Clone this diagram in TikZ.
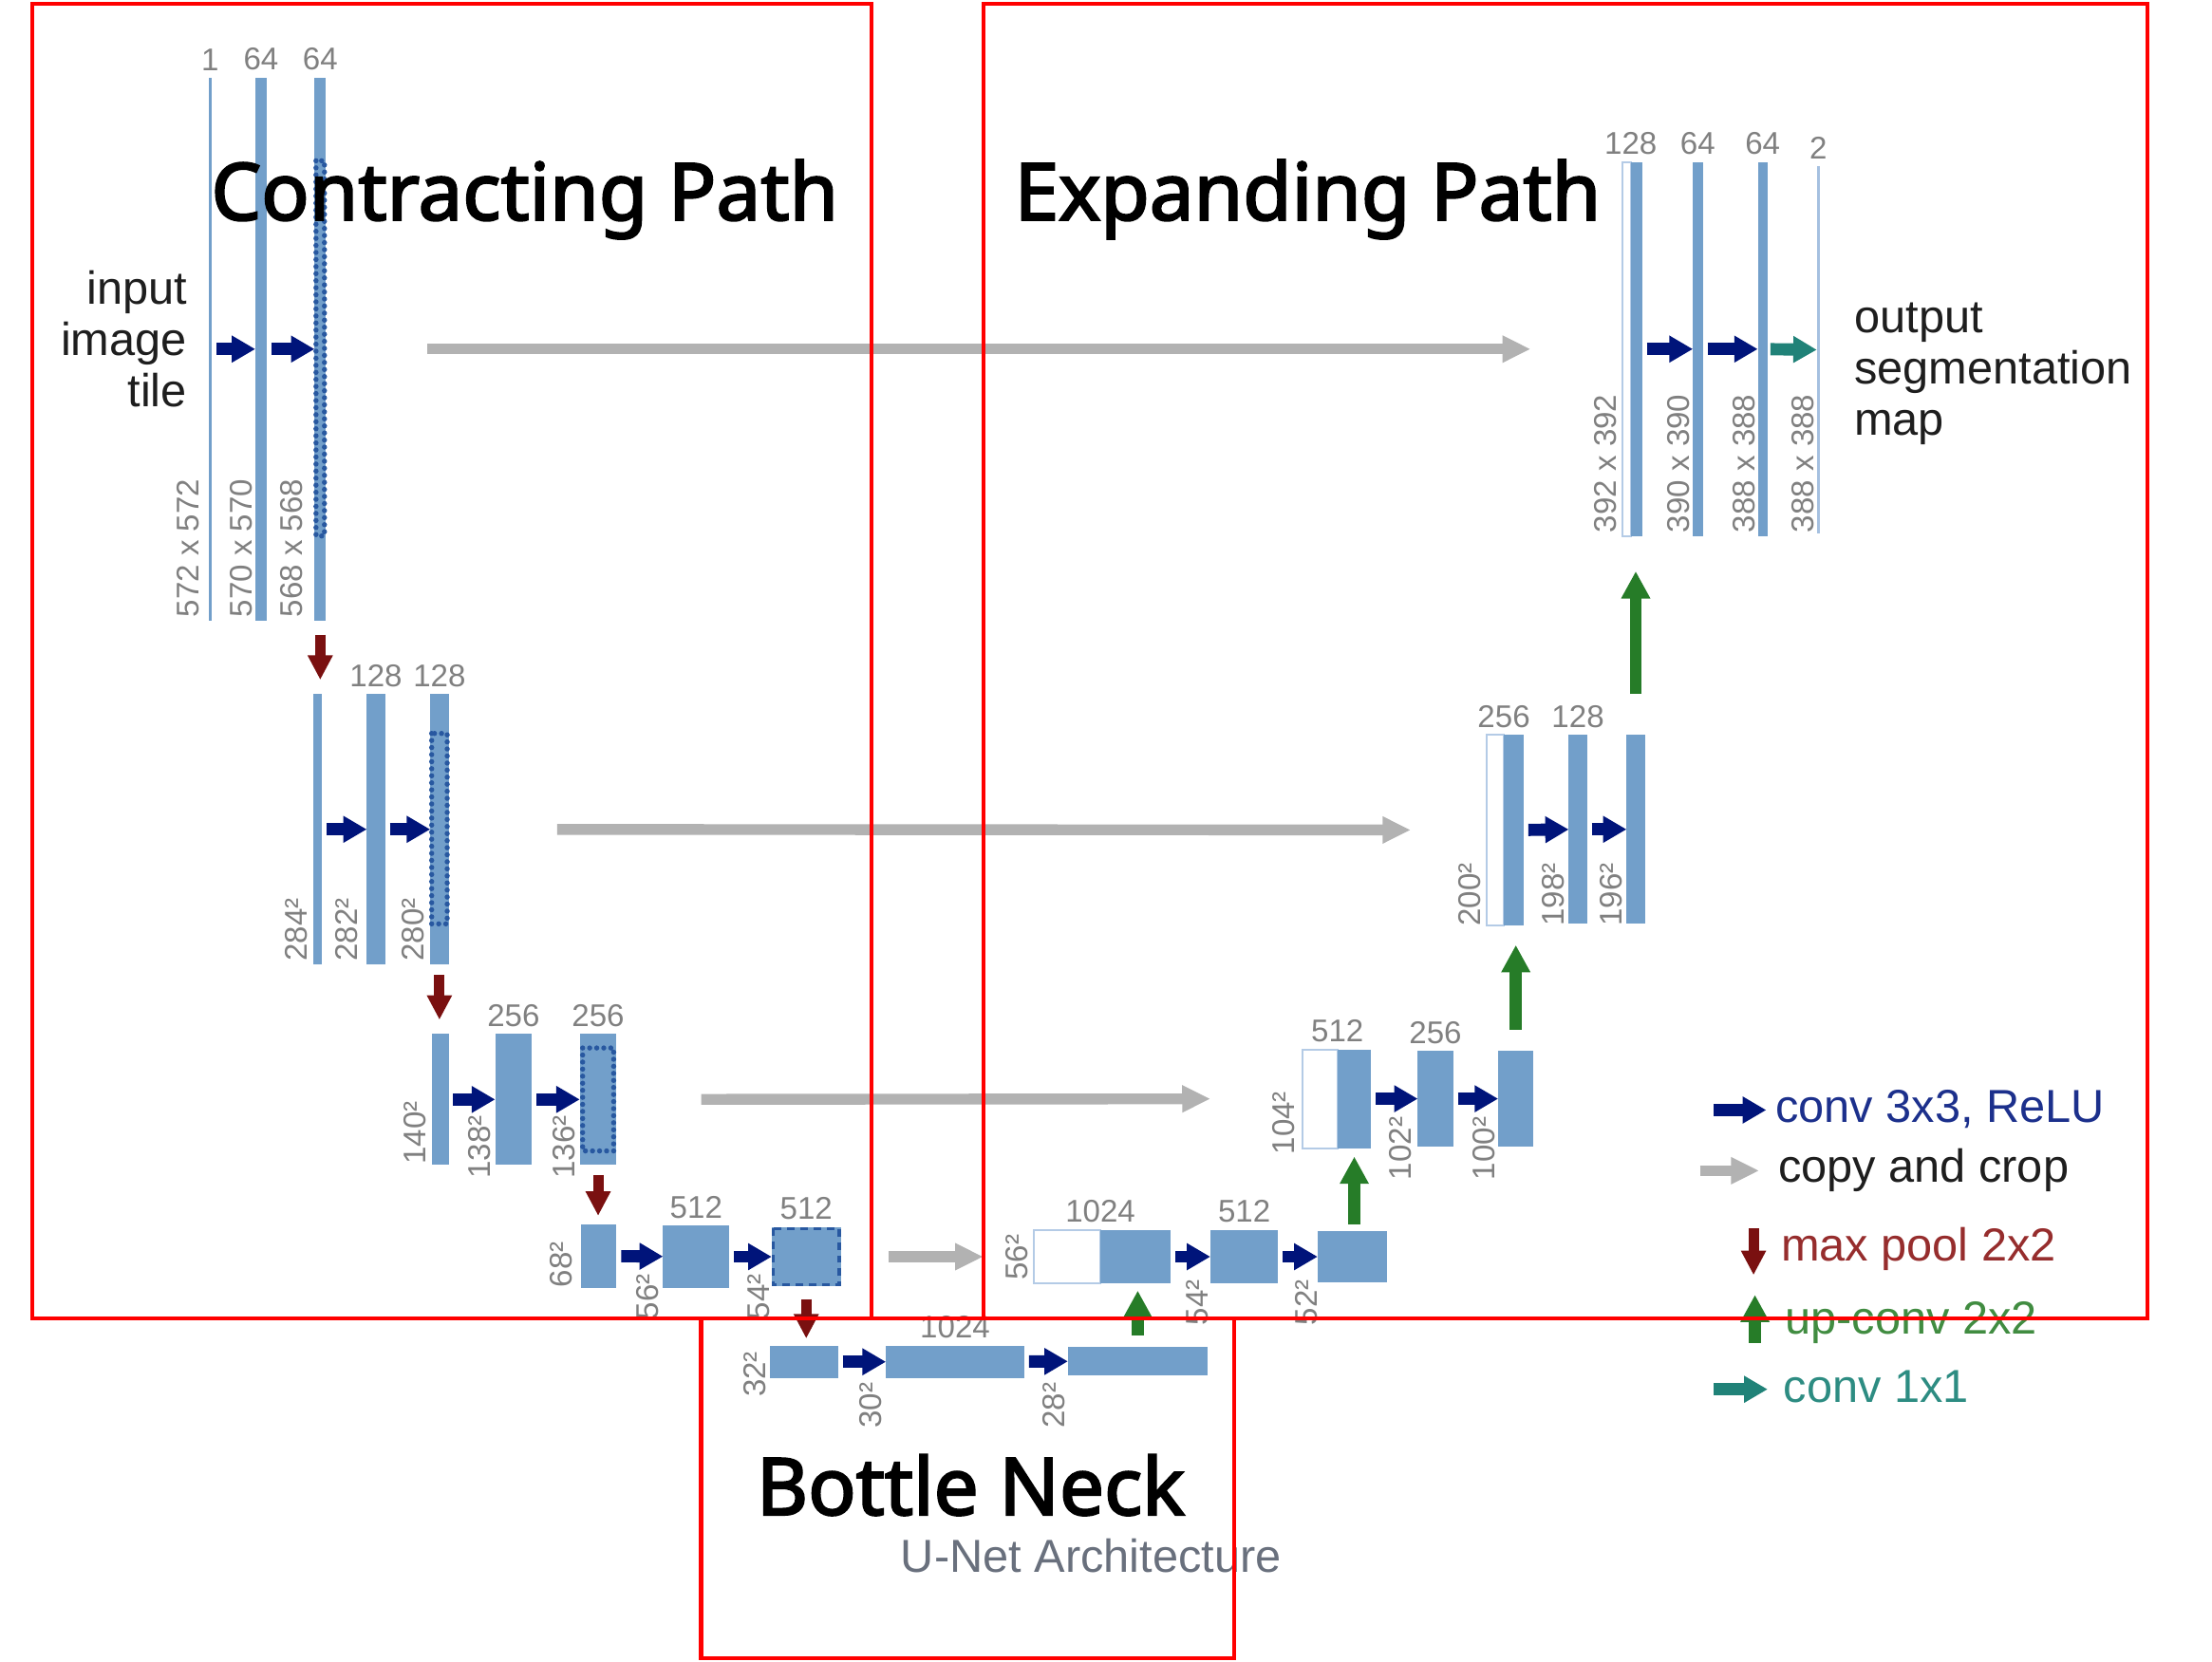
\documentclass[tikz,border=0pt]{standalone}
\usepackage{fontspec}
\setmainfont{Liberation Sans}
\newfontfamily\titlefont{Noto Sans}[AutoFakeBold=2.6]
\usetikzlibrary{arrows.meta,positioning,fit}

\definecolor{fmapblue}{RGB}{114,159,202}
\definecolor{outblue}{RGB}{165,192,224}
\definecolor{catedge}{RGB}{180,203,230}
\definecolor{cropblue}{RGB}{40,88,160}
\definecolor{convblue}{RGB}{0,20,122}
\definecolor{copygray}{RGB}{178,178,178}
\definecolor{poolred}{RGB}{122,16,16}
\definecolor{upgreen}{RGB}{38,124,40}
\definecolor{tealconv}{RGB}{32,130,120}
\definecolor{labgray}{RGB}{128,128,128}
\definecolor{textdark}{RGB}{30,30,30}
\definecolor{convtext}{RGB}{28,48,140}
\definecolor{pooltext}{RGB}{150,45,45}
\definecolor{uptext}{RGB}{65,140,65}
\definecolor{onetext}{RGB}{45,140,130}
\definecolor{captiongray}{RGB}{105,112,125}

\begin{document}
\begin{tikzpicture}[x=0.15mm, y=-0.15mm,
  fmap/.style    ={fill=fmapblue, inner sep=0pt, outer sep=0pt},
  outmap/.style  ={fill=outblue, inner sep=0pt, outer sep=0pt},
  catbox/.style  ={fill=white, draw=catedge, line width=0.2mm, inner sep=0pt, outer sep=0pt},
  crop/.style    ={draw=cropblue, line width=0.55mm, dash pattern=on 0pt off 0.75mm, line cap=round},
  cropdash/.style={draw=cropblue, line width=0.35mm, dash pattern=on 0.8mm off 0.6mm},
  chan/.style    ={font=\fontsize{9.5}{11}\selectfont, text=labgray, inner sep=2pt, anchor=south},
  dimlbl/.style  ={font=\fontsize{9.5}{11}\selectfont, text=labgray, inner sep=0pt, rotate=90, anchor=west},
  conv/.style    ={-{Triangle[length=2.5mm,width=2.7mm]}, line width=1.3mm, draw=convblue, shorten <=0.5mm},
  copycrop/.style={-{Triangle[length=3mm,width=2.7mm]}, line width=1.15mm, draw=copygray},
  pool/.style    ={-{Triangle[length=2.6mm,width=2.5mm]}, line width=1.1mm, draw=poolred},
  upconv/.style  ={-{Triangle[length=2.9mm,width=2.9mm]}, line width=1.3mm, draw=upgreen},
  outconv/.style ={-{Triangle[length=2.5mm,width=2.7mm]}, line width=1.3mm, draw=tealconv, shorten <=0.3mm},
  side/.style    ={font=\fontsize{14}{15.5}\selectfont, text=textdark, inner sep=0pt},
  lgd/.style     ={font=\fontsize{14}{16}\selectfont, inner sep=0pt, anchor=base west},
  pathtitle/.style={font=\titlefont\bfseries\fontsize{24}{28}\selectfont, inner sep=0pt, anchor=base},
  region/.style  ={draw=red, line width=0.42mm},
]
\useasboundingbox (0,0) rectangle (1568,1178);

% --- contracting path, level 1 ---
\node[fmap, fit={(148,55) (150,440)}] (c11) {};
\node[fmap, fit={(181,55) (189,440)}] (c12) {};
\node[fmap, fit={(223,55) (231,440)}] (c13) {};
\draw[crop] (224,114) rectangle (230,380);
\node[side, align=right, anchor=east] (intile) at (133,240) {input\\image\\tile};

% --- level 2 ---
\node[fmap, fit={(222,492) (228,684)}] (c21) {};
\node[fmap, fit={(260,492) (273,684)}] (c22) {};
\node[fmap, fit={(305,492) (318,684)}] (c23) {};
\draw[crop] (306,520) rectangle (317,655);

% --- level 3 ---
\node[fmap, fit={(306,733) (318,826)}] (c31) {};
\node[fmap, fit={(351,733) (377,826)}] (c32) {};
\node[fmap, fit={(411,733) (437,826)}] (c33) {};
\draw[crop] (413,743) rectangle (435,816);

% --- level 4 ---
\node[fmap, fit={(412,868) (437,913)}] (c41) {};
\node[fmap, fit={(470,869) (517,913)}] (c42) {};
\node[fmap, fit={(547,870) (596,912)}] (c43) {};
\draw[cropdash] (548,871) rectangle (595,911);

% --- bottleneck ---
\node[fmap, fit={(546,954) (594,977)}] (b1) {};
\node[fmap, fit={(628,954) (726,977)}] (b2) {};
\node[fmap, fit={(757,955) (856,975)}] (b3) {};

% --- expanding path ---
\node[catbox, fit={(733,872) (780,910)}] (e4w) {};
\node[fmap, fit={(780,872) (830,910)}] (e4a) {};
\node[fmap, fit={(858,872) (906,910)}] (e42) {};
\node[fmap, fit={(934,873) (983,909)}] (e43) {};

\node[catbox, fit={(923,744) (948,814)}] (e3w) {};
\node[fmap, fit={(948,744) (972,814)}] (e3a) {};
\node[fmap, fit={(1005,745) (1030,813)}] (e32) {};
\node[fmap, fit={(1062,745) (1087,813)}] (e33) {};

\node[catbox, fit={(1054,521) (1066,656)}] (e2w) {};
\node[fmap, fit={(1066,521) (1080,656)}] (e2a) {};
\node[fmap, fit={(1112,521) (1125,655)}] (e22) {};
\node[fmap, fit={(1153,521) (1166,655)}] (e23) {};

\node[catbox, fit={(1150,115) (1156,380)}] (e1w) {};
\node[fmap, fit={(1156,115) (1164,380)}] (e1a) {};
\node[fmap, fit={(1200,115) (1207,380)}] (e12) {};
\node[fmap, fit={(1246,115) (1253,380)}] (e13) {};
\node[outmap, fit={(1288,118) (1290,378)}] (e14) {};
\node[side, align=left, anchor=west] (outmapl) at (1314,265) {output\\segmentation\\map};

% --- channel counts ---
\node[chan] at (c11.north) {1};
\node[chan] at (c12.north) {64};
\node[chan] at (c13.north) {64};
\node[chan] at (c22.north) {128};
\node[chan] at (c23.north) {128};
\node[chan] at (c32.north) {256};
\node[chan] at (c33.north) {256};
\node[chan] at (c42.north) {512};
\node[chan] at (c43.north) {512};
\node[chan] at (b2.north) {1024};
\node[chan] at (e4w.north east) {1024};
\node[chan] at (e42.north) {512};
\node[chan] at (e3w.north east) {512};
\node[chan] at (e32.north) {256};
\node[chan] at (e2w.north east) {256};
\node[chan] at (e22.north) {128};
\node[chan] at (e1w.north east) {128};
\node[chan] at (e12.north) {64};
\node[chan] at (e13.north) {64};
\node[chan] at (e14.north) {2};

% --- map sizes ---
\node[dimlbl] at (133,438) {572 x 572};
\node[dimlbl] at (171,438) {570 x 570};
\node[dimlbl] at (207,438) {568 x 568};
\node[dimlbl] at (210,682) {284²};
\node[dimlbl] at (246,682) {282²};
\node[dimlbl] at (293,682) {280²};
\node[dimlbl] at (294,826) {140²};
\node[dimlbl] at (340,836) {138²};
\node[dimlbl] at (400,836) {136²};
\node[dimlbl] at (398,913) {68²};
\node[dimlbl] at (459,936) {56²};
\node[dimlbl] at (538,936) {54²};
\node[dimlbl] at (535,991) {32²};
\node[dimlbl] at (617,1013) {30²};
\node[dimlbl] at (747,1013) {28²};
\node[dimlbl] at (721,908) {56²};
\node[dimlbl] at (849,940) {54²};
\node[dimlbl] at (926,940) {52²};
\node[dimlbl] at (910,819) {104²};
\node[dimlbl] at (993,837) {102²};
\node[dimlbl] at (1052,837) {100²};
\node[dimlbl] at (1042,657) {200²};
\node[dimlbl] at (1101,657) {198²};
\node[dimlbl] at (1142,657) {196²};
\node[dimlbl] at (1138,378) {392 x 392};
\node[dimlbl] at (1190,378) {390 x 390};
\node[dimlbl] at (1236,378) {388 x 388};
\node[dimlbl] at (1278,378) {388 x 388};

% --- conv 3x3 ---
\draw[conv] (c11) -- (c12);  \draw[conv] (c12) -- (c13);
\draw[conv] (c21) -- (c22);  \draw[conv] (c22) -- (c23);
\draw[conv] (c31) -- (c32);  \draw[conv] (c32) -- (c33);
\draw[conv] (c41) -- (c42);  \draw[conv] (c42) -- (c43);
\draw[conv] (b1) -- (b2);    \draw[conv] (b2) -- (b3);
\draw[conv] (e4a) -- (e42);  \draw[conv] (e42) -- (e43);
\draw[conv] (e3a) -- (e32);  \draw[conv] (e32) -- (e33);
\draw[conv] (e2a) -- (e22);  \draw[conv] (e22) -- (e23);
\draw[conv] (e1a) -- (e12);  \draw[conv] (e12) -- (e13);
\draw[outconv] (e13) -- (e14);

% --- copy and crop ---
\draw[copycrop, shorten <=10.8mm, shorten >=9.75mm] (c13) -- (e1w);
\draw[copycrop, shorten <=11.55mm, shorten >=8.1mm] (c23) -- (e2w);
\draw[copycrop, shorten <=9mm, shorten >=9.75mm] (c33) -- (e3w);
\draw[copycrop, shorten <=5.1mm, shorten >=5.4mm] (c43) -- (e4w);

% --- max pool ---
\draw[pool, shorten <=1.5mm, shorten >=1.5mm] (c13.south) -- (c13.south |- c21.north);
\draw[pool, shorten <=1.05mm, shorten >=1.5mm] (c23.south) -- (c23.south |- c31.north);
\draw[pool, shorten <=1.05mm, shorten >=0.9mm] (c33.south) -- (c33.south |- c41.north);
\draw[pool, shorten <=1.35mm, shorten >=0.75mm] (c43.south) -- (c43.south |- b1.north);

% --- up-conv ---
\draw[upconv, shorten <=1.2mm, shorten >=0.75mm] (b3.north) -- (b3.north |- e4a.south);
\draw[upconv, shorten <=0.75mm, shorten >=0.9mm] (e3a.south |- e43.north) -- (e3a.south);
\draw[upconv, shorten <=2.25mm, shorten >=2.1mm] (e33.north) -- (e33.north |- e2a.south);
\draw[upconv, shorten <=4.35mm, shorten >=3.75mm] (e23.north) -- (e23.north |- e1a.south);

% --- legend ---
\node[lgd, text=convtext] (lconv) at (1258,796) {conv 3x3, ReLU};
\node[lgd, text=textdark] (lcopy) at (1260,838) {copy and crop};
\node[lgd, text=pooltext] (lpool) at (1262,894) {max pool 2x2};
\node[lgd, text=uptext]   (lup)   at (1265,945.5) {up-conv 2x2};
\node[lgd, text=onetext]  (lone)  at (1264,994) {conv 1x1};
\draw[conv, shorten <=0pt] (1215,787) -- (1252,787);
\draw[copycrop] (1205,830) -- (1247,830);
\draw[pool] (1243,871) -- (1243,904);
\draw[upconv] (1244,952) -- (1244,918);
\draw[outconv, shorten <=0pt] (1215,985) -- (1253,985);

% --- titles ---
\node[pathtitle] (tcontract) at (372,156) {Contracting Path};
\node[pathtitle] (texpand) at (927,156) {Expanding Path};
\node[pathtitle] (tneck) at (688,1074) {Bottle Neck};
\node[font=\fontsize{14}{16}\selectfont, text=captiongray, inner sep=0pt, anchor=base] (caption) at (773.5,1115) {U-Net Architecture};

% --- regions ---
\draw[region] (23,2.5) rectangle (618,935);
\draw[region] (697,2.5) rectangle (1522,935);
\draw[region] (497,935) rectangle (875,1175.5);
\end{tikzpicture}
\end{document}
